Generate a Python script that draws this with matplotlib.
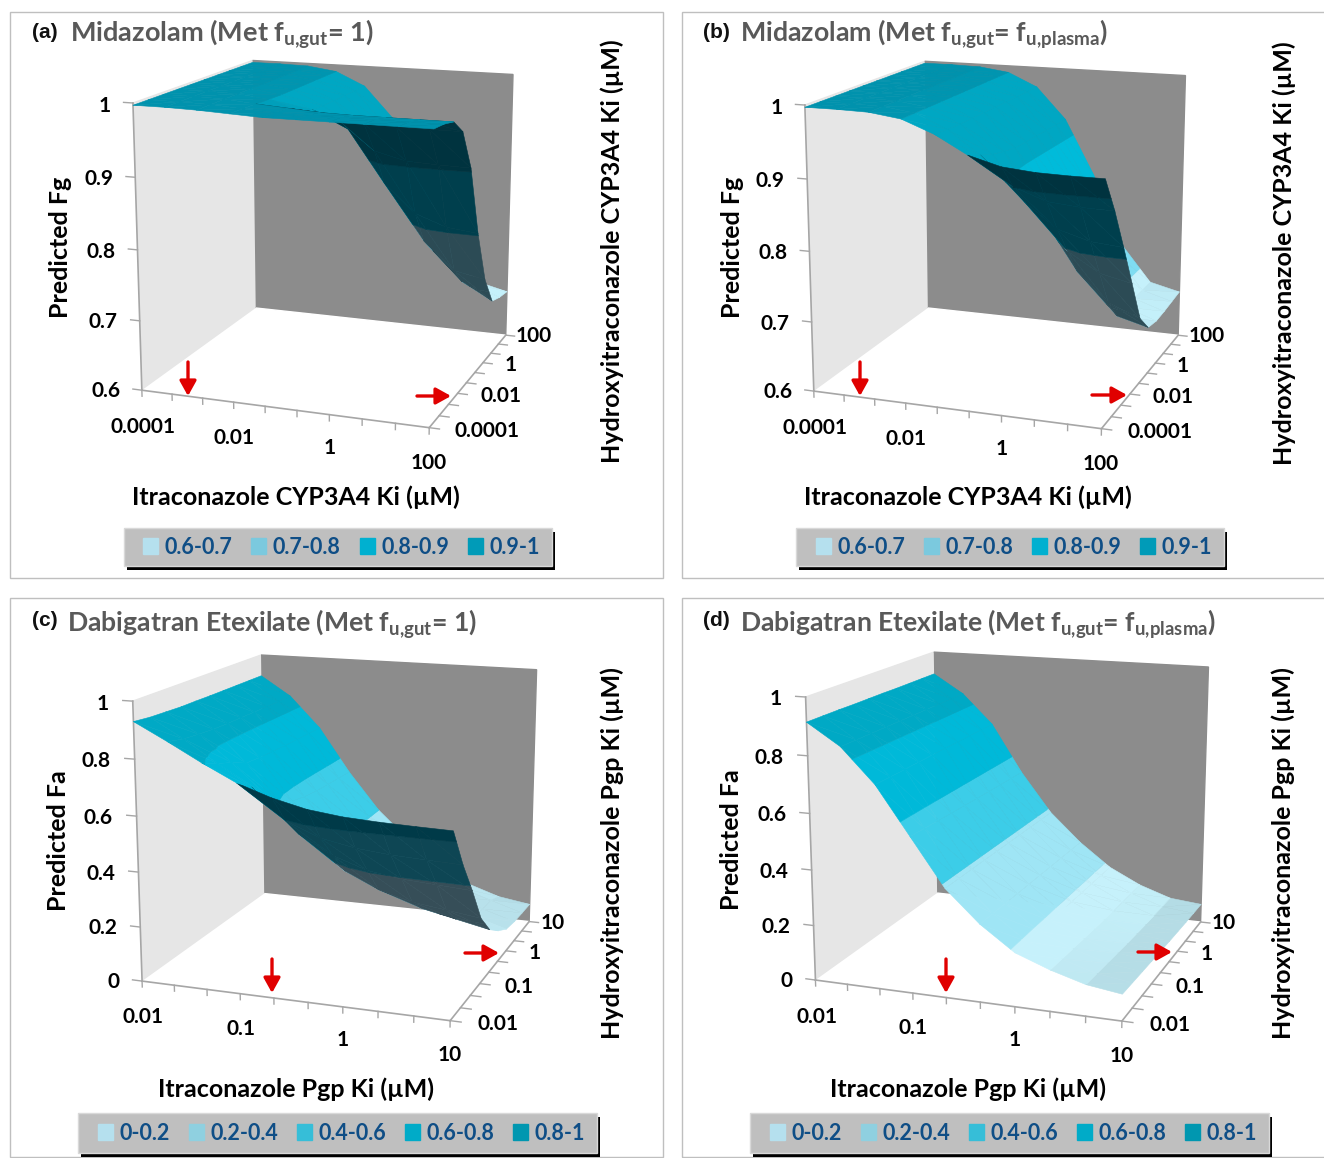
import numpy as np
import matplotlib
matplotlib.use('Agg')
import matplotlib.pyplot as plt
from matplotlib.colors import to_rgb
from matplotlib.patches import Patch, Rectangle, FancyArrowPatch
from mpl_toolkits.mplot3d import proj3d
from mpl_toolkits.mplot3d.art3d import Poly3DCollection

plt.rcParams['font.family'] = ['Lato', 'DejaVu Sans']
plt.rcParams['font.weight'] = 'bold'
plt.rcParams['mathtext.fontset'] = 'custom'
plt.rcParams['mathtext.rm'] = 'Lato:bold'
plt.rcParams['mathtext.bf'] = 'Lato:bold'

W, H = 1324, 1158
S = 600

# surface values, rows = hydroxyitraconazole Ki, columns = itraconazole Ki
fg_a = [[.997,.997,.996,.994,.992,.992,.992,.992,.992,.992],
        [.997,.997,.996,.993,.991,.990,.990,.990,.990,.990],
        [.997,.997,.996,.992,.989,.986,.985,.985,.985,.985],
        [.997,.997,.996,.991,.978,.976,.966,.964,.964,.964],
        [.997,.997,.996,.990,.972,.958,.920,.909,.907,.906],
        [.997,.997,.996,.990,.970,.935,.865,.825,.809,.804],
        [.997,.997,.996,.990,.970,.924,.848,.774,.734,.725],
        [.997,.997,.996,.990,.970,.923,.842,.748,.705,.680],
        [.997,.997,.996,.990,.970,.923,.841,.740,.691,.673],
        [.997,.997,.996,.990,.970,.923,.840,.735,.680,.669]]
fg_b = [[.997,.997,.996,.990,.973,.949,.937,.933,.932,.932],
        [.997,.997,.996,.990,.971,.940,.901,.885,.881,.880],
        [.997,.997,.996,.990,.970,.932,.870,.837,.824,.820],
        [.997,.997,.996,.990,.970,.927,.854,.795,.768,.758],
        [.997,.997,.996,.990,.970,.923,.844,.754,.713,.695],
        [.997,.997,.996,.990,.970,.923,.840,.735,.680,.668],
        [.997,.997,.996,.990,.970,.923,.840,.735,.680,.664],
        [.997,.997,.996,.990,.970,.923,.840,.735,.680,.665],
        [.997,.997,.996,.990,.970,.923,.840,.735,.680,.667],
        [.997,.997,.996,.990,.970,.923,.840,.735,.680,.669]]
fa_c = [[.930,.869,.805,.746,.705,.676,.661,.654,.650,.647],
        [.923,.855,.778,.705,.596,.547,.523,.511,.505,.500],
        [.920,.848,.755,.650,.517,.452,.411,.392,.384,.376],
        [.917,.843,.728,.600,.451,.362,.306,.273,.257,.240],
        [.917,.841,.723,.570,.425,.328,.258,.212,.186,.160],
        [.916,.841,.721,.558,.414,.312,.236,.183,.150,.117],
        [.916,.840,.719,.552,.407,.301,.219,.159,.121,.085],
        [.916,.840,.719,.550,.405,.298,.214,.151,.113,.076],
        [.916,.840,.719,.549,.404,.297,.212,.149,.111,.073],
        [.916,.840,.718,.547,.400,.290,.200,.130,.090,.071]]
fa_d = [[.915,.840,.720,.553,.386,.275,.190,.145,.110,.093],
        [.915,.840,.720,.551,.386,.275,.189,.142,.106,.090],
        [.915,.840,.721,.549,.386,.275,.188,.139,.102,.087],
        [.914,.840,.722,.547,.386,.275,.188,.136,.098,.084],
        [.914,.840,.723,.546,.386,.275,.187,.133,.094,.081],
        [.914,.840,.724,.544,.386,.275,.187,.131,.091,.078],
        [.913,.840,.724,.543,.386,.275,.186,.129,.088,.076],
        [.913,.840,.725,.542,.386,.275,.186,.127,.086,.074],
        [.913,.840,.725,.541,.386,.275,.185,.126,.085,.073],
        [.913,.840,.725,.540,.386,.275,.185,.125,.084,.072]]

mdz_ticks = ['0.0001', '0.01', '1', '100']
dab_ticks = ['0.01', '0.1', '1', '10']
mdz_z = [0.6, 0.7, 0.8, 0.9, 1]
dab_z = [0, 0.2, 0.4, 0.6, 0.8, 1]
mdz_levels = [.6, .7, .8, .9, 1.001]
dab_levels = [0, .2, .4, .6, .8, 1.001]
mdz_names = ['0.6-0.7', '0.7-0.8', '0.8-0.9', '0.9-1']
dab_names = ['0-0.2', '0.2-0.4', '0.4-0.6', '0.6-0.8', '0.8-1']
mdz_swatch = ['#B5E0EE', '#7BC9DE', '#00B0D0', '#009BB8']
dab_swatch = ['#B5E0EE', '#8FD0E0', '#36BED8', '#00ABC8', '#0097B0']

# band colours: (flat, steep) seen from above, then seen from below
mdz_top = [('#B3DFEB', '#C5F1FB'), ('#7FDDF2', '#7FDDF2'), ('#00A9C4', '#00BBDA'), ('#0092AD', '#00A7C3')]
mdz_under = ['#2C4B55', '#2C4B55', '#003F4D', '#00333F']
dab_top = [('#B3DAE3', '#C6F1FB'), ('#9FE5F5', '#9FE5F5'), ('#3CCDE8', '#3CCDE8'), ('#00B9D9', '#00B9D9'), ('#00A4BF', '#00A9C5')]
dabc_top = [('#AED6E0', '#BCE6F0')] + dab_top[1:]
dab_under = ['#364E58', '#364E58', '#0E4654', '#003A48', '#003A48']

panels = [
    dict(tag='(a)', tag_at=(32, 33), title='Midazolam (Met f$_{\\mathrm{u{,}gut}}$= 1)', title_at=(70, 34), title_size=19.5,
         z=fg_a, zt=mdz_z, xt=mdz_ticks, lev=mdz_levels, top=mdz_top, under=mdz_under,
         names=mdz_names, swatch=mdz_swatch, view=(14.283, -70.097, .4950, .8952, .8860, .8692), ll=(24.9, 622.3),
         xlab='Itraconazole CYP3A4 Ki (µM)', xlab_at=(296, 497), zlab='Predicted Fg', zlab_at=(60, 247),
         ylab='Hydroxyitraconazole CYP3A4 Ki (µM)', ylab_at=(612, 251), box=(124, 528, 552, 566), leg=(341.5, 547),
         down=(188, 362, 396), right=(417, 451, 396)),
    dict(tag='(b)', tag_at=(703, 33), title='Midazolam (Met f$_{\\mathrm{u{,}gut}}$= f$_{\\mathrm{u{,}plasma}}$)', title_at=(740, 34), title_size=19.3,
         z=fg_b, zt=mdz_z, xt=mdz_ticks, lev=mdz_levels, top=mdz_top, under=mdz_under,
         names=mdz_names, swatch=mdz_swatch, view=(14.449, -70.154, .4988, .8959, .8901, .8664), ll=(697.1, 621.3),
         xlab='Itraconazole CYP3A4 Ki (µM)', xlab_at=(968, 497), zlab='Predicted Fg', zlab_at=(733, 247),
         ylab='Hydroxyitraconazole CYP3A4 Ki (µM)', ylab_at=(1284, 253), box=(796, 528, 1224, 566), leg=(1014, 547),
         down=(860, 362, 396), right=(1092, 1127, 395)),
    dict(tag='(c)', tag_at=(32, 621), title='Dabigatran Etexilate (Met f$_{\\mathrm{u{,}gut}}$= 1)', title_at=(67, 624), title_size=19.2,
         z=fa_c, zt=dab_z, xt=dab_ticks, lev=dab_levels, top=dabc_top, under=dab_under,
         names=dab_names, swatch=dab_swatch, view=(14.282, -70.376, .4931, .9515, .9490, .8433), ll=(38.2, 30.0),
         xlab='Itraconazole Pgp Ki (µM)', xlab_at=(296, 1089), zlab='Predicted Fa', zlab_at=(59, 841),
         ylab='Hydroxyitraconazole Pgp Ki (µM)', ylab_at=(612, 853), box=(78, 1113, 597, 1153), leg=(341.5, 1133),
         down=(272, 959, 993), right=(465, 499, 953)),
    dict(tag='(d)', tag_at=(703, 621), title='Dabigatran Etexilate (Met f$_{\\mathrm{u{,}gut}}$= f$_{\\mathrm{u{,}plasma}}$)', title_at=(740, 624), title_size=19.1,
         z=fa_d, zt=dab_z, xt=dab_ticks, lev=dab_levels, top=dab_top, under=dab_under,
         names=dab_names, swatch=dab_swatch, view=(14.471, -70.007, .4774, .9496, .9303, .8539), ll=(710.4, 31.6),
         xlab='Itraconazole Pgp Ki (µM)', xlab_at=(968, 1089), zlab='Predicted Fa', zlab_at=(732, 840),
         ylab='Hydroxyitraconazole Pgp Ki (µM)', ylab_at=(1283, 853), box=(750, 1113, 1269, 1153), leg=(1013.5, 1133),
         down=(946, 959, 993), right=(1138, 1172, 952)),
]
frames = [(10, 12, 663, 578), (682, 12, 1340, 578), (10, 598, 663, 1157), (682, 598, 1340, 1157)]
y_label_dx = [.75, .7, .7, .35]  # the top label sits nearer the axis
x_label_dy = [3, 1, -2, -1]


def clip(poly, level, keep_above):
    out = []
    for k in range(len(poly)):
        a, b = poly[k], poly[(k + 1) % len(poly)]
        ina = a[2] >= level if keep_above else a[2] <= level
        inb = b[2] >= level if keep_above else b[2] <= level
        if ina:
            out.append(a)
        if ina != inb:
            t = (level - a[2]) / (b[2] - a[2])
            out.append(a + t * (b - a))
    return out


def mix(pair, t):
    return tuple((1 - t) * np.array(to_rgb(pair[0])) + t * np.array(to_rgb(pair[1])))


def surface(ax, p):
    z = np.array(p['z'])
    lev = p['lev']
    rng = p['zt'][-1] - p['zt'][0]
    box = np.array(p['view'][3:]) / [9, 9, rng]
    M = ax.get_proj()
    polys, cols = [], []
    for j in range(9):
        for i in range(9):
            c = [np.array([i, j, z[j, i]]), np.array([i + 1, j, z[j, i + 1]]),
                 np.array([i + 1, j + 1, z[j + 1, i + 1]]), np.array([i, j + 1, z[j + 1, i]])]
            for tri in ([c[0], c[1], c[2]], [c[0], c[2], c[3]]):
                nrm = np.cross((tri[1] - tri[0]) * box, (tri[2] - tri[0]) * box)
                nz = abs(nrm[2]) / np.linalg.norm(nrm)
                t = np.clip((1 - nz) / .06, 0, 1)
                vx, vy, _ = proj3d.proj_transform(*np.array(tri).T, M)
                area = (vx[1] - vx[0]) * (vy[2] - vy[0]) - (vx[2] - vx[0]) * (vy[1] - vy[0])
                for b in range(len(lev) - 1):
                    part = clip(tri, lev[b], True)
                    part = clip(part, lev[b + 1], False) if part else part
                    if len(part) < 3:
                        continue
                    polys.append(np.array(part))
                    cols.append(mix(p['top'][b], t) if area > 0 else to_rgb(p['under'][b]))
    coll = Poly3DCollection(polys, facecolors=cols, edgecolors=cols, linewidths=.4)
    ax.add_collection3d(coll, autolim=False)


def px(x, y):
    return x / W, 1 - y / H


def put(ax, x, y, z, s, dy=0, **kw):
    # label at a 3d data position, dy in pixels downwards
    vx, vy, _ = proj3d.proj_transform(x, y, z, ax.get_proj())
    dx, dz = ax.transData.transform((vx, vy))
    fig.text(dx / W, (dz - dy) / H, s, fontsize=15, color='black', va='center', **kw)


fig = plt.figure(figsize=(W / 100, H / 100), dpi=100)
grey = '#A6A6A6'

for x0, y0, x1, y1 in frames:
    fig.add_artist(Rectangle(px(x0, y1), (x1 - x0) / W, (y1 - y0) / H, transform=fig.transFigure,
                             fill=False, ec='#BFBFBF', lw=1))

for p in panels:
    ax = fig.add_axes([p['ll'][0] / W, p['ll'][1] / H, S / W, S / H], projection='3d')
    ax.set_facecolor('none')
    elev, azim, f, a, b, c = p['view']
    ax.view_init(elev, azim)
    ax.set_proj_type('persp', focal_length=f)
    ax.set_box_aspect((a, b, c), zoom=np.linalg.norm([a, b, c]) / (1.8294640721620434 * 25 / 24))
    zlo, zhi = p['zt'][0], p['zt'][-1]
    rng = zhi - zlo
    ax.set_xlim(0, 9)
    ax.set_ylim(0, 9)
    ax.set_zlim(zlo, zhi)
    ax.apply_aspect()
    ax.grid(False)
    ax.set_xticks([])
    ax.set_yticks([])
    ax.set_zticks([])
    for axis, col in ((ax.xaxis, '#E6E6E6'), (ax.yaxis, '#8C8C8C'), (ax.zaxis, '#FFFFFF')):
        axis.set_pane_color(col)
        axis.pane.set_edgecolor(col)
        axis.line.set_color(grey)
        axis.line.set_linewidth(1.2)
    ax.zaxis.line.set_color('none')

    surface(ax, p)

    # axis line and tick marks
    ax.plot([0, 0], [0, 0], [zlo, zhi], color=grey, lw=1.2)
    for k in range(10):
        ax.plot([k, k], [0, 0], [zlo, zlo - .022 * rng], color=grey, lw=1)
        ax.plot([9, 9.3], [k, k], [zlo, zlo], color=grey, lw=1)
    for v in p['zt']:
        ax.plot([0, -.3], [0, 0], [v, v], color=grey, lw=1)
        put(ax, -.72, 0, v, '%g' % v, dy=4, ha='right')
    for n, lab in enumerate(p['xt']):
        put(ax, 3 * n, 0, zlo - .125 * rng, lab, dy=x_label_dy[n], ha='center')
        put(ax, 9 + y_label_dx[n], 3 * n, zlo, lab, ha='left')

    fig.text(*px(*p['xlab_at']), p['xlab'], ha='center', va='center', fontsize=18)
    fig.text(*px(*p['zlab_at']), p['zlab'], ha='center', va='center', rotation=90, fontsize=18)
    fig.text(*px(*p['ylab_at']), p['ylab'], ha='center', va='center', rotation=90, fontsize=18)
    fig.text(*px(*p['tag_at']), p['tag'], ha='left', va='center', fontsize=15, family='Liberation Sans', color='#111111')
    fig.text(*px(*p['title_at']), p['title'], ha='left', va='center', fontsize=p['title_size'], color='#595959')

    # legend box and its hard shadow sit behind a frameless legend
    x0, y0, x1, y1 = p['box']
    fig.add_artist(Rectangle(px(x0 + 3, y1 + 4), (x1 - x0) / W, (y1 - y0) / H, transform=fig.transFigure, fc='black', ec='none', zorder=3))
    fig.add_artist(Rectangle(px(x0, y1), (x1 - x0) / W, (y1 - y0) / H, transform=fig.transFigure, fc='#BFBFBF', ec='#D9D9D9', lw=1, zorder=3.5))
    handles = [Patch(color=c) for c in p['swatch']]
    fig.legend(handles, p['names'], loc='center', bbox_to_anchor=px(*p['leg']), ncol=len(handles),
               frameon=False, labelcolor='#0F4E86', fontsize=15.5, borderaxespad=0,
               handlelength=.7, handleheight=.7, handletextpad=.3, columnspacing=.87, borderpad=0)

    for a0, a1 in ((px(p['down'][0], p['down'][1]), px(p['down'][0], p['down'][2])),
                   (px(p['right'][0], p['right'][2]), px(p['right'][1], p['right'][2]))):
        fig.add_artist(FancyArrowPatch(a0, a1, transform=fig.transFigure, arrowstyle='-|>,head_length=9,head_width=5',
                                       mutation_scale=1, color='#E00000', lw=2.4, shrinkA=0, shrinkB=0))

fig.savefig('out.png', dpi=100)
